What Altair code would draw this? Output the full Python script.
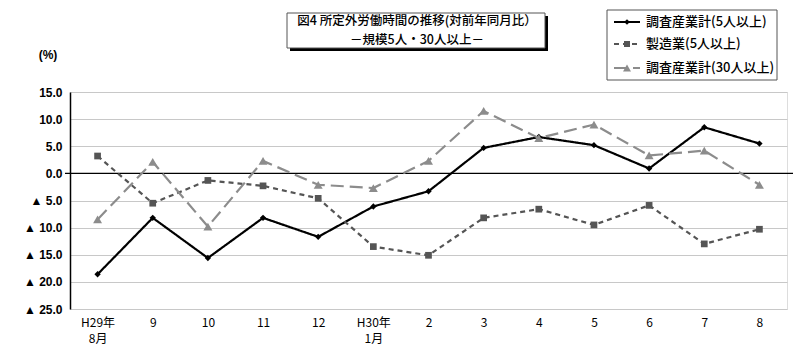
import altair as alt
import pandas as pd

months = ["H29年\n8月", "9", "10", "11", "12", "H30年\n1月", "2", "3", "4", "5", "6", "7", "8"]
series_names = ["調査産業計(5人以上)", "製造業(5人以上)", "調査産業計(30人以上)"]
total5 = [-18.6, -8.2, -15.6, -8.2, -11.7, -6.1, -3.3, 4.7, 6.7, 5.2, 0.9, 8.5, 5.5]
manuf5 = [3.2, -5.5, -1.3, -2.3, -4.6, -13.5, -15.1, -8.2, -6.6, -9.5, -5.9, -13.0, -10.3]
total30 = [-8.5, 2.1, -9.8, 2.3, -2.1, -2.7, 2.3, 11.5, 6.5, 9.0, 3.3, 4.2, -2.1]
y_ticks = [-25, -20, -15, -10, -5, 0, 5, 10, 15]
title_lines = ["図4  所定外労働時間の推移(対前年同月比）", "－規模5人・30人以上－"]
unit_label = "(%)"

W, H = 717, 217
FONT = "Liberation Sans, Noto Sans CJK JP"
JFONT = "Noto Sans CJK JP"

styles = [
    dict(color="#000000", dash=[1, 0], shape="diamond", size=40, width=2.2),
    dict(color="#555555", dash=[5, 4], shape="square", size=45, width=2.2),
    dict(color="#8c8c8c", dash=[13, 6], shape="triangle-up", size=80, width=2.2),
]
values = [total5, manuf5, total30]

xaxis = alt.Axis(title=None, labelAngle=0, ticks=False, domain=False,
                 labelExpr="split(datum.label, '\\n')", labelFontSize=12,
                 labelFont=JFONT, labelColor="#000", labelPadding=8,
                 labelLineHeight=16, grid=False, labelOverlap=False)
yaxis = alt.Axis(title=None, values=y_ticks, ticks=False, domain=True,
                 domainColor="#000", domainWidth=1.5,
                 labelExpr="datum.value < 0 ? '▲ ' + format(-datum.value, '.1f') : format(datum.value, '.1f')",
                 labelFontSize=12, labelFont=FONT, labelColor="#000", labelFontWeight="bold",
                 labelOverlap=False, labelBound=False, labelFlush=False,
                 labelPadding=8, grid=True, gridColor="#c8c8c8", gridWidth=1.2)
xscale = alt.Scale(type="point", padding=0.5)
yscale = alt.Scale(domain=[-25, 15], nice=False, zero=False)


def xe():
    return alt.X("month:N", sort=months, scale=xscale, axis=xaxis)


def ye(field="value:Q"):
    return alt.Y(field, scale=yscale, axis=yaxis)


layers = []
for name, vals, st in zip(series_names, values, styles):
    df = pd.DataFrame({"month": months, "value": vals, "series": name})
    ln = alt.Chart(df).mark_line(color=st["color"], strokeDash=st["dash"], strokeWidth=st["width"]).encode(
        x=xe(), y=ye())
    pt = alt.Chart(df).mark_point(shape=st["shape"], filled=True, color=st["color"], size=st["size"], opacity=1).encode(
        x=xe(), y=ye())
    layers += [ln, pt]

zero_rule = alt.Chart(pd.DataFrame({"value": [0]})).mark_rule(color="#000", strokeWidth=1.3).encode(
    y=ye(), x=alt.value(-5), x2=alt.value(W + 6))
layers.insert(0, zero_rule)

one = pd.DataFrame({"a": [0]})
shadow = alt.Chart(one).mark_rect(color="#000").encode(
    x=alt.value(287 - 70 + 3), x2=alt.value(545 - 70 + 3), y=alt.value(13 - 92 + 3), y2=alt.value(48 - 92 + 3))
tbox = alt.Chart(one).mark_rect(fill="#fff", stroke="#555", strokeWidth=1).encode(
    x=alt.value(287 - 70), x2=alt.value(545 - 70), y=alt.value(13 - 92), y2=alt.value(48 - 92))
t1 = alt.Chart(pd.DataFrame({"t": [title_lines[0]]})).mark_text(font=JFONT, fontSize=12.5, fontWeight=500, color="#000").encode(
    text="t:N", x=alt.value(417 - 70), y=alt.value(21 - 92))
t2 = alt.Chart(pd.DataFrame({"t": [title_lines[1]]})).mark_text(font=JFONT, fontSize=12.5, fontWeight=500, color="#000").encode(
    text="t:N", x=alt.value(417 - 70), y=alt.value(40 - 92))
unit = alt.Chart(pd.DataFrame({"t": [unit_label]})).mark_text(font=FONT, fontSize=12, fontWeight="bold", color="#000").encode(
    text="t:N", x=alt.value(48 - 70), y=alt.value(55 - 92))
layers += [shadow, tbox, t1, t2, unit]

lbox = alt.Chart(one).mark_rect(fill="#fff", stroke="#555", strokeWidth=1).encode(
    x=alt.value(607 - 70), x2=alt.value(777 - 70), y=alt.value(10 - 92), y2=alt.value(80 - 92))
layers.append(lbox)
leg_y = [22, 44, 68]
for name, st, ly in zip(series_names, styles, leg_y):
    yy = ly - 92
    seg = alt.Chart(one).mark_rule(color=st["color"], strokeDash=st["dash"], strokeWidth=st["width"]).encode(
        x=alt.value(614 - 70), x2=alt.value(640 - 70), y=alt.value(yy))
    mk = alt.Chart(one).mark_point(shape=st["shape"], filled=True, color=st["color"], size=st["size"] * 0.8, opacity=1).encode(
        x=alt.value(627 - 70), y=alt.value(yy))
    tx = alt.Chart(pd.DataFrame({"t": [name]})).mark_text(font=JFONT, fontSize=13, fontWeight=500, align="left", color="#000").encode(
        text="t:N", x=alt.value(646 - 70), y=alt.value(yy))
    layers += [seg, mk, tx]

chart = alt.layer(*layers).properties(
    width=W, height=H,
    autosize=alt.AutoSizeParams(type="none"),
    padding={"left": 70, "top": 92, "right": 13, "bottom": 42},
).configure_view(stroke="#888", strokeWidth=1.2).configure(background="#ffffff")

chart.save("out.html", embed_options={"renderer": "svg", "actions": False})
